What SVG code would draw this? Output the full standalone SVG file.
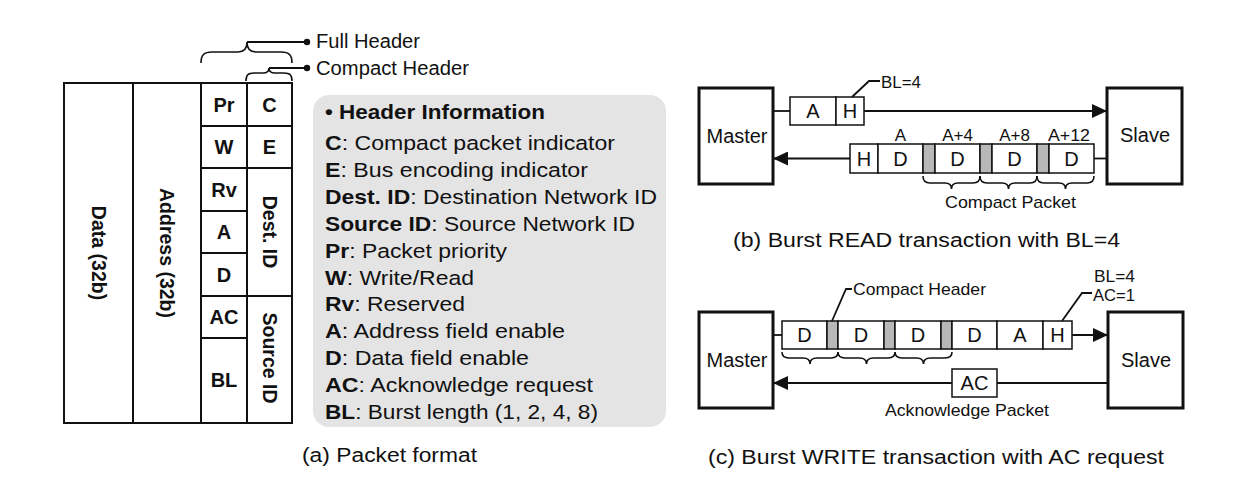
<svg xmlns="http://www.w3.org/2000/svg" width="1246" height="490" viewBox="0 0 1246 490">
<defs>
<marker id="arr" markerUnits="userSpaceOnUse" markerWidth="16" markerHeight="14" refX="15" refY="7" orient="auto"><path d="M0,0 L15,7 L0,14 z" fill="#111"/></marker>
<style>
text{font-family:"Liberation Sans",Arial,sans-serif;fill:#111}
.b{font-weight:bold}
.m{text-anchor:middle}
.cell{fill:#fff;stroke:#111;stroke-width:1.5}
.g{fill:#b8b8b8;stroke:#111;stroke-width:1.5}
.box{fill:#fff;stroke:#111;stroke-width:3}
.ln{fill:none;stroke:#111;stroke-width:1.8}
.br{fill:none;stroke:#111;stroke-width:1.6}
.tbl{fill:#fff;stroke:#111;stroke-width:2}
.f{font-size:20px}
.s{font-size:17px}
.xs{font-size:16.5px}
.pv{font-size:20.5px}
</style>
</defs>
<rect width="1246" height="490" fill="#fff"/>

<!-- (a) packet format table -->
<g id="field-data"><rect class="tbl" x="64" y="83" width="69" height="340"/><text class="b m" font-size="19.5" transform="translate(98.5,253) rotate(90)" dy="0.35em">Data (32b)</text></g>
<g id="field-address"><rect class="tbl" x="133" y="83" width="68" height="340"/><text class="b m" font-size="19.5" transform="translate(167,253) rotate(90)" dy="0.35em">Address (32b)</text></g>
<g id="field-pr"><rect class="tbl" x="201" y="83" width="46" height="43"/><text class="b m f" x="224" y="112">Pr</text></g>
<g id="field-w"><rect class="tbl" x="201" y="126" width="46" height="42"/><text class="b m f" x="224" y="154">W</text></g>
<g id="field-rv"><rect class="tbl" x="201" y="168" width="46" height="43"/><text class="b m f" x="224" y="197">Rv</text></g>
<g id="field-a"><rect class="tbl" x="201" y="211" width="46" height="42"/><text class="b m f" x="224" y="239">A</text></g>
<g id="field-d"><rect class="tbl" x="201" y="253" width="46" height="43"/><text class="b m f" x="224" y="282">D</text></g>
<g id="field-ac"><rect class="tbl" x="201" y="296" width="46" height="42"/><text class="b m f" x="224" y="324">AC</text></g>
<g id="field-bl"><rect class="tbl" x="201" y="338" width="46" height="85"/><text class="b m f" x="224" y="387">BL</text></g>
<g id="field-c"><rect class="tbl" x="247" y="83" width="45" height="43"/><text class="b m f" x="269.5" y="112">C</text></g>
<g id="field-e"><rect class="tbl" x="247" y="126" width="45" height="42"/><text class="b m f" x="269.5" y="154">E</text></g>
<g id="field-dest"><rect class="tbl" x="247" y="168" width="45" height="128"/><text class="b m" font-size="19.5" transform="translate(269.5,232) rotate(90)" dy="0.35em">Dest. ID</text></g>
<g id="field-source"><rect class="tbl" x="247" y="296" width="45" height="127"/><text class="b m" font-size="19.5" transform="translate(269.5,358) rotate(90)" dy="0.35em">Source ID</text></g>

<!-- header braces -->
<g id="full-header">
<path class="br" d="M201,63 C201,55 204,52 212,52 H238 C244,52 247,48 247,42 C247,48 250,52 256,52 H281 C289,52 292,55 292,63"/>
<text class="f" x="316" y="48" textLength="104" lengthAdjust="spacingAndGlyphs">Full Header</text>
</g>
<g id="compact-header">
<path class="br" d="M246,81 C246,75 248,73 254,73 H263 C267,73 269,71 269,68 C269,71 271,73 275,73 H284 C290,73 292,75 292,81"/>
<text class="f" x="316" y="74.5" textLength="153" lengthAdjust="spacingAndGlyphs">Compact Header</text>
</g>

<!-- header information panel -->
<g id="header-info">
<rect x="313" y="95" width="353" height="332" rx="16" fill="#e4e4e4"/>
<text class="b pv" x="325" y="119" textLength="220" lengthAdjust="spacingAndGlyphs">• Header Information</text>
<text class="pv" x="325" y="150" textLength="290" lengthAdjust="spacingAndGlyphs"><tspan class="b">C</tspan>: Compact packet indicator</text>
<text class="pv" x="325" y="177" textLength="263" lengthAdjust="spacingAndGlyphs"><tspan class="b">E</tspan>: Bus encoding indicator</text>
<text class="pv" x="325" y="204" textLength="332" lengthAdjust="spacingAndGlyphs"><tspan class="b">Dest. ID</tspan>: Destination Network ID</text>
<text class="pv" x="325" y="231" textLength="310" lengthAdjust="spacingAndGlyphs"><tspan class="b">Source ID</tspan>: Source Network ID</text>
<text class="pv" x="325" y="258" textLength="182" lengthAdjust="spacingAndGlyphs"><tspan class="b">Pr</tspan>: Packet priority</text>
<text class="pv" x="325" y="285" textLength="149" lengthAdjust="spacingAndGlyphs"><tspan class="b">W</tspan>: Write/Read</text>
<text class="pv" x="325" y="311" textLength="140" lengthAdjust="spacingAndGlyphs"><tspan class="b">Rv</tspan>: Reserved</text>
<text class="pv" x="325" y="338" textLength="240" lengthAdjust="spacingAndGlyphs"><tspan class="b">A</tspan>: Address field enable</text>
<text class="pv" x="325" y="365" textLength="204" lengthAdjust="spacingAndGlyphs"><tspan class="b">D</tspan>: Data field enable</text>
<text class="pv" x="325" y="392" textLength="268" lengthAdjust="spacingAndGlyphs"><tspan class="b">AC</tspan>: Acknowledge request</text>
<text class="pv" x="325" y="419" textLength="273" lengthAdjust="spacingAndGlyphs"><tspan class="b">BL</tspan>: Burst length (1, 2, 4, 8)</text>
</g>

<!-- (b) burst read -->
<g id="master-b"><rect class="box" x="699" y="88" width="74" height="96"/><text class="f m" x="737" y="143" textLength="61" lengthAdjust="spacingAndGlyphs">Master</text></g>
<g id="slave-b"><rect class="box" x="1107" y="88" width="75" height="96"/><text class="f m" x="1145" y="142">Slave</text></g>
<g id="read-request">
<rect class="cell" x="790" y="97" width="46" height="28"/><rect class="cell" x="836" y="97" width="28" height="28"/>
<text class="f m" x="813" y="118">A</text><text class="f m" x="850" y="118">H</text>
<text class="xs" x="881" y="88" textLength="40" lengthAdjust="spacingAndGlyphs">BL=4</text>
</g>
<g id="read-response">
<rect class="cell" x="850" y="144" width="28" height="29"/>
<rect class="cell" x="878" y="144" width="45" height="29"/>
<rect class="g" x="923" y="144" width="12" height="29"/>
<rect class="cell" x="935" y="144" width="45" height="29"/>
<rect class="g" x="980" y="144" width="12" height="29"/>
<rect class="cell" x="992" y="144" width="45" height="29"/>
<rect class="g" x="1037" y="144" width="12" height="29"/>
<rect class="cell" x="1049" y="144" width="45" height="29"/>
<text class="f m" x="864" y="166">H</text>
<text class="f m" x="900.5" y="166">D</text>
<text class="f m" x="957.5" y="166">D</text>
<text class="f m" x="1014.5" y="166">D</text>
<text class="f m" x="1071.5" y="166">D</text>
<text class="s m" x="900.5" y="141">A</text>
<text class="s m" x="957.5" y="141">A+4</text>
<text class="s m" x="1014.5" y="141">A+8</text>
<text class="s m" x="1069" y="141" textLength="42" lengthAdjust="spacingAndGlyphs">A+12</text>
<path class="br" d="M923,176 C923,181 925,183 930,183 H945 C949,183 951.5,185 951.5,189 C951.5,185 954,183 958,183 H973 C978,183 980,181 980,176"/>
<path class="br" d="M980,176 C980,181 982,183 987,183 H1002 C1006,183 1008.5,185 1008.5,189 C1008.5,185 1011,183 1015,183 H1030 C1035,183 1037,181 1037,176"/>
<path class="br" d="M1037,176 C1037,181 1039,183 1044,183 H1059 C1063,183 1065.5,185 1065.5,189 C1065.5,185 1068,183 1072,183 H1087 C1092,183 1094,181 1094,176"/>
<text class="s m" x="1010.5" y="208" textLength="131" lengthAdjust="spacingAndGlyphs">Compact Packet</text>
</g>

<!-- (c) burst write -->
<g id="master-c"><rect class="box" x="699" y="312" width="74" height="96"/><text class="f m" x="737" y="367" textLength="61" lengthAdjust="spacingAndGlyphs">Master</text></g>
<g id="slave-c"><rect class="box" x="1108" y="312" width="75" height="96"/><text class="f m" x="1146" y="367">Slave</text></g>
<g id="write-request">
<rect class="cell" x="782" y="321" width="45" height="28"/>
<rect class="g" x="827" y="321" width="11" height="28"/>
<rect class="cell" x="838" y="321" width="46" height="28"/>
<rect class="g" x="884" y="321" width="11" height="28"/>
<rect class="cell" x="895" y="321" width="46" height="28"/>
<rect class="g" x="941" y="321" width="11" height="28"/>
<rect class="cell" x="952" y="321" width="45" height="28"/>
<rect class="cell" x="997" y="321" width="46" height="28"/>
<rect class="cell" x="1043" y="321" width="29" height="28"/>
<text class="f m" x="804.5" y="342">D</text>
<text class="f m" x="861" y="342">D</text>
<text class="f m" x="918" y="342">D</text>
<text class="f m" x="974.5" y="342">D</text>
<text class="f m" x="1020" y="342">A</text>
<text class="f m" x="1057.5" y="342">H</text>
<path class="br" d="M782,352 C782,356 784,358 789,358 H803 C807,358 810,360 810,364 C810,360 813,358 817,358 H831 C836,358 838,356 838,352"/>
<path class="br" d="M838,352 C838,356 840,358 845,358 H859.5 C863.5,358 866.5,360 866.5,364 C866.5,360 869.5,358 873.5,358 H888 C893,358 895,356 895,352"/>
<path class="br" d="M895,352 C895,356 897,358 902,358 H916.5 C920.5,358 923.5,360 923.5,364 C923.5,360 926.5,358 930.5,358 H945 C950,358 952,356 952,352"/>
<text class="s" x="853" y="295" textLength="133" lengthAdjust="spacingAndGlyphs">Compact Header</text>
<text class="xs" x="1094" y="282" textLength="41" lengthAdjust="spacingAndGlyphs">BL=4</text>
<text class="xs" x="1093" y="301" textLength="42" lengthAdjust="spacingAndGlyphs">AC=1</text>
</g>
<g id="ack-packet">
<rect class="cell" x="952" y="369" width="45" height="28"/>
<text class="f m" x="974.5" y="390">AC</text>
<text class="s m" x="967" y="416" textLength="164" lengthAdjust="spacingAndGlyphs">Acknowledge Packet</text>
</g>

<!-- connectors -->
<g id="connectors">
<path class="ln" d="M247,42 H305"/><circle cx="307" cy="42" r="3.2" fill="#111"/>
<path class="ln" d="M269,68 H305"/><circle cx="307" cy="68" r="3.2" fill="#111"/>
<path class="ln" d="M773,111 H790"/>
<path class="ln" d="M864,111 H1107" marker-end="url(#arr)"/>
<path class="ln" d="M852,97 L869,81 H880" stroke-width="1.4"/>
<path class="ln" d="M1094,158.5 H1107"/>
<path class="ln" d="M850,158.5 H773" marker-end="url(#arr)"/>
<path class="ln" d="M773,335 H782"/>
<path class="ln" d="M1072,335 H1108" marker-end="url(#arr)"/>
<path class="ln" d="M832,321 L846,289 H852" stroke-width="1.4"/>
<path class="ln" d="M1062,321 L1082,293 H1092" stroke-width="1.4"/>
<path class="ln" d="M1108,383 H997"/>
<path class="ln" d="M952,383 H773" marker-end="url(#arr)"/>
</g>

<!-- captions -->
<text class="f" x="302" y="462" textLength="175" lengthAdjust="spacingAndGlyphs">(a) Packet format</text>
<text class="f" x="733" y="247" textLength="387" lengthAdjust="spacingAndGlyphs">(b) Burst READ transaction with BL=4</text>
<text class="f" x="708" y="464" textLength="456" lengthAdjust="spacingAndGlyphs">(c) Burst WRITE transaction with AC request</text>
</svg>
